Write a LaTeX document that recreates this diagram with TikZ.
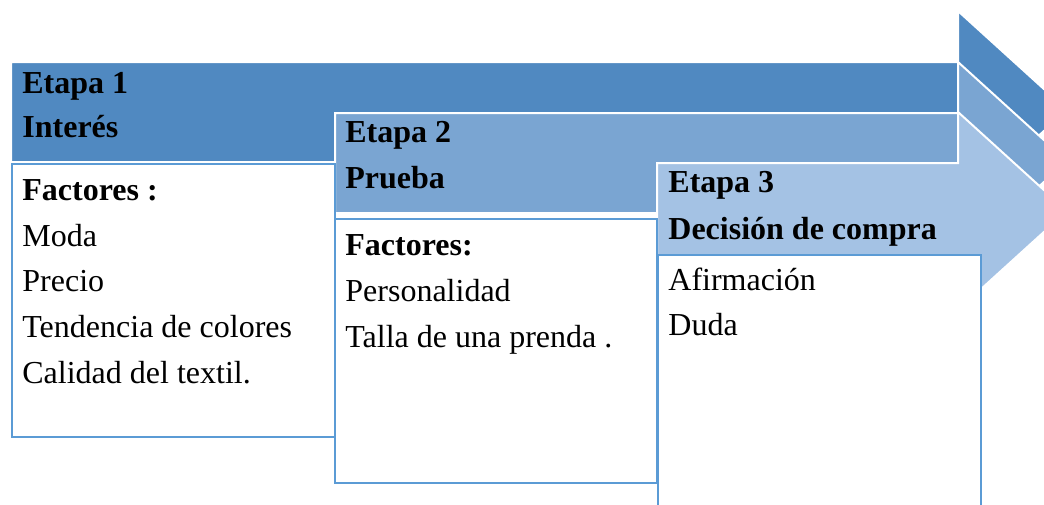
\documentclass[tikz,border=0pt]{standalone}
\usepackage{fontspec}
\setmainfont{Liberation Serif}
\definecolor{etapaA}{RGB}{80,137,193}
\definecolor{etapaB}{RGB}{122,165,210}
\definecolor{etapaC}{RGB}{164,194,228}
\definecolor{borde}{RGB}{91,155,213}

\begin{document}
\begin{tikzpicture}[x=0.5pt,y=-0.5pt]
\tikzstyle{every node}+=[inner sep=0pt,anchor=base west,font=\fontsize{16}{19}\selectfont]
\tikzstyle{flecha}=[draw=white,line width=1pt,line join=miter]
\tikzstyle{caja}=[draw=borde,fill=white,line width=1.4pt]
\useasboundingbox (0,0) rectangle (1044,504);
\clip (0,0) rectangle (1044,504);
\draw [flecha,fill=etapaA] (11,62) -- (958,62) -- (958,11) -- (1067,110) -- (958,209) -- (958,162) -- (11,162) -- cycle;
\draw [flecha,fill=etapaB] (335,113) -- (958,113) -- (958,62) -- (1067,161) -- (958,260) -- (958,213) -- (335,213) -- cycle;
\draw [flecha,fill=etapaC] (657,163) -- (958,163) -- (958,112) -- (1067,211) -- (958,310) -- (958,263) -- (657,263) -- cycle;
\draw [caja] (12,164) rectangle (335,437);
\draw [caja] (335,219) rectangle (657,483);
\draw [caja] (658,255) rectangle (981,530);
\draw (22,93) node (e1) {\textbf{Etapa 1}};
\draw (22,137) node (n1) {\textbf{Interés}};
\draw (22,200) node (f1) {\textbf{Factores :}};
\draw (22,246) node (moda) {Moda};
\draw (22,291) node (precio) {Precio};
\draw (22,337) node (tendencia) {Tendencia de colores};
\draw (22,383) node (calidad) {Calidad del textil.};
\draw (345,142) node (e2) {\textbf{Etapa 2}};
\draw (345,188) node (n2) {\textbf{Prueba}};
\draw (345,255) node (f2) {\textbf{Factores:}};
\draw (345,301) node (personalidad) {Personalidad};
\draw (345,347) node (talla) {Talla de una prenda .};
\draw (668,192) node (e3) {\textbf{Etapa 3}};
\draw (668,239) node (n3) {\textbf{Decisión de compra}};
\draw (668,290) node (afirmacion) {Afirmación};
\draw (668,335) node (duda) {Duda};
\end{tikzpicture}
\end{document}
